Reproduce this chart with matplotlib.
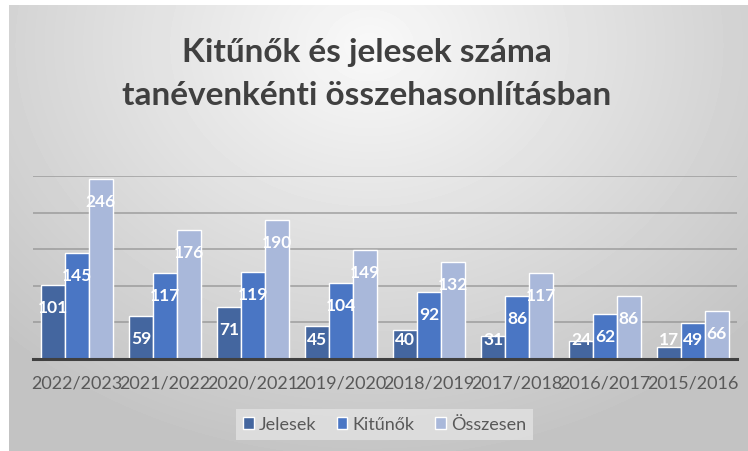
import numpy as np
import matplotlib
matplotlib.use("Agg")
import matplotlib.pyplot as plt

# === Data ===
school_years = ['2022/2023', '2021/2022', '2020/2021', '2019/2020',
                '2018/2019', '2017/2018', '2016/2017', '2015/2016']
jelesek = [101, 59, 71, 45, 40, 31, 24, 17]
kitunok = [145, 117, 119, 104, 92, 86, 62, 49]
osszesen = [246, 176, 190, 149, 132, 117, 86, 66]

series_names = ['Jelesek', 'Kitűnők', 'Összesen']
series_colors = ['#44669f', '#4a76c4', '#a9b8da']

plt.rcParams['font.family'] = ['Lato', 'DejaVu Sans']

W, H = 748, 452
fig = plt.figure(figsize=(W / 100, H / 100), dpi=100)
fig.patch.set_facecolor('white')

# === radial gray background ===
bg = fig.add_axes([9 / W, 0, (W - 9) / W, (H - 6) / H], zorder=-5)
yy, xx = np.mgrid[0:446, 0:739]
d = np.sqrt(((xx - 360) / 520.0) ** 2 + ((yy - 40) / 420.0) ** 2)
shade = 0.975 - 0.21 * np.clip(d, 0, 1)
bg.imshow(shade, cmap='gray', vmin=0, vmax=1, aspect='auto',
          interpolation='bilinear')
bg.axis('off')

# === bars ===
ax = fig.add_axes([33 / W, (H - 360) / H, 704 / W, 183 / H])
ax.patch.set_alpha(0)

x = np.arange(len(school_years))
width = 0.27
all_vals = [jelesek, kitunok, osszesen]
for i, (vals, name, col) in enumerate(zip(all_vals, series_names, series_colors)):
    pos = x + (i - 1) * width
    ax.bar(pos, vals, width, color=col, edgecolor='white', linewidth=1,
           label=name, zorder=3)
    for px, v in zip(pos, vals):
        ax.annotate(str(v), xy=(px, max(v, 57)), xytext=(0, -22 * 0.72),
                    textcoords='offset points', ha='center', va='center',
                    color='white', fontsize=12.5, fontweight='bold', zorder=5)

ax.set_xlim(-0.5, len(school_years) - 0.5)
ax.set_ylim(0, 250)
ax.set_yticks([50, 100, 150, 200, 250])
ax.yaxis.grid(True, color='#8c8c8c', linewidth=1.2, alpha=0.7, zorder=0)
ax.set_axisbelow(True)
ax.tick_params(axis='y', left=False, labelleft=False)
ax.set_xticks(x)
ax.set_xticklabels(school_years, fontsize=13, color='#595959')
ax.tick_params(axis='x', length=0, pad=11)
for s in ['top', 'right', 'left']:
    ax.spines[s].set_visible(False)
ax.spines['bottom'].set_color('#404040')
ax.spines['bottom'].set_linewidth(2.2)
ax.spines['bottom'].set_zorder(4)

# === title ===
fig.text(367 / W, 1 - 62 / H, 'Kitűnők és jelesek száma', ha='center',
         va='baseline', fontsize=24, fontweight='bold', color='#404040')
fig.text(367 / W, 1 - 105 / H, 'tanévenkénti összehasonlításban', ha='center',
         va='baseline', fontsize=24, fontweight='bold', color='#404040')

# === legend ===
leg = fig.legend(loc='center', bbox_to_anchor=(384.5 / W, 1 - 425.5 / H),
                 ncol=3, fontsize=13, frameon=True, fancybox=False,
                 handlelength=0.6, handleheight=0.6, handletextpad=0.3,
                 columnspacing=1.1, borderpad=0.4)
leg.get_frame().set_facecolor('#e2e2e2')
leg.get_frame().set_edgecolor('none')
leg.get_frame().set_alpha(0.8)
for t in leg.get_texts():
    t.set_color('#595959')

fig.savefig('out.png', dpi=100)
